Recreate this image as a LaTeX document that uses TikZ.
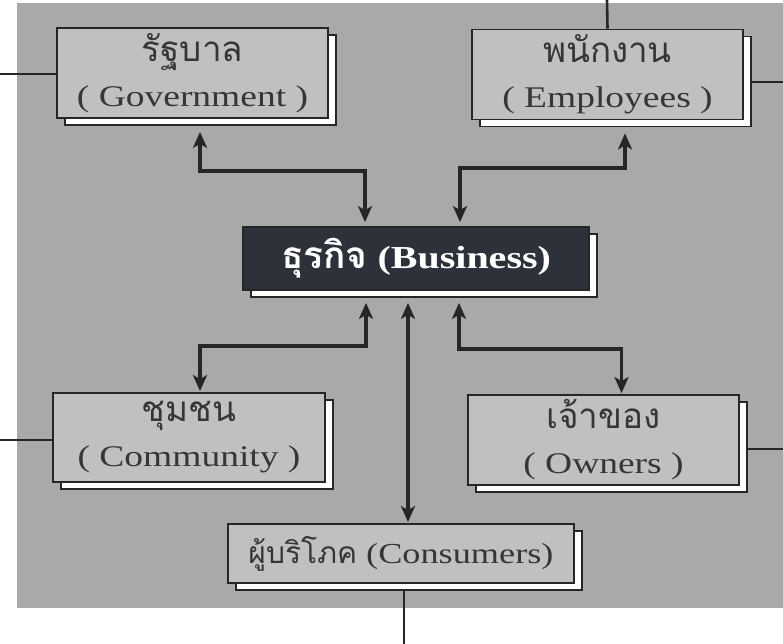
\documentclass[tikz,border=0pt]{standalone}
\usepackage{fontspec}
\setmainfont{Liberation Serif}[FakeStretch=1.25]
\newfontfamily\thai[Script=Thai]{Loma}
\usetikzlibrary{arrows.meta,shadows}
\definecolor{bgc}{HTML}{A9A9A9}
\definecolor{boxc}{HTML}{C0C0C0}
\definecolor{linec}{HTML}{262626}
\definecolor{txtc}{HTML}{363636}
\definecolor{busc}{HTML}{2D3139}
\tikzset{
  box/.style={draw=linec, line width=1.8pt, fill=boxc, minimum width=271pt,
    minimum height=90pt, inner sep=0pt, align=center, text=txtc,
    font=\fontsize{30}{45}\selectfont,
    copy shadow={shadow xshift=8pt, shadow yshift=-7pt, fill=white, draw=linec, line width=1.8pt}},
  tip/.tip={Stealth[length=16pt,width=14pt,inset=4pt]},
  link/.style={draw=linec, line width=3.2pt, tip-tip},
  ext/.style={draw=linec, line width=2.6pt}
}
\newcommand{\thtxt}[1]{{\thai\fontsize{35}{45}\selectfont #1}}
\begin{document}
\begin{tikzpicture}[x=1pt,y=-1pt]
\useasboundingbox (0,0) rectangle (783,644);
\fill[white] (0,0) rectangle (783,644);
\fill[bgc] (17,3) rectangle (783,608);

\node[box] (gov) at (192.5,73) {\thtxt{รัฐบาล}\\( Government )};
\node[box] (emp) at (607.5,74.5) {\thtxt{พนักงาน}\\( Employees )};
\node[box, fill=busc, text=white, minimum width=346pt, minimum height=63pt,
  font=\fontsize{32}{36}\selectfont\bfseries] (bus) at (416,258.5) {{\thai\bfseries\fontsize{37}{36}\selectfont ธุรกิจ} (Business)};
\node[box, minimum width=272pt, minimum height=89pt] (com) at (189,437.5) {\thtxt{ชุมชน}\\( Community )};
\node[box] (own) at (603.5,440) {\thtxt{เจ้าของ}\\( Owners )};
\node[box, minimum width=346pt, minimum height=59pt, font=\fontsize{29}{36}\selectfont] (con) at (401,553.5) {{\thai\fontsize{30}{36}\selectfont ผู้บริโภค} (Consumers)};

% connectors
\draw[link] ([xshift=-51pt,yshift=4pt]bus.north) -- ++(0,-51) -| ([xshift=7.5pt,yshift=-13pt]gov.south);
\draw[link] ([xshift=44pt,yshift=4pt]bus.north) -- ++(0,-54) -| ([xshift=17.5pt,yshift=-13pt]emp.south);
\draw[link] ([xshift=-50pt,yshift=-12pt]bus.south) -- ++(0,43) -| ([xshift=11pt,yshift=1pt]com.north);
\draw[link] ([xshift=43pt,yshift=-12pt]bus.south) -- ++(0,46) -| ([xshift=18pt,yshift=1pt]own.north);
\draw[link] ([xshift=-8pt,yshift=-12pt]bus.south) -- ([xshift=7pt,yshift=1pt]con.north);

% external lines
\coordinate (eL1) at (0,74);
\coordinate (eR1) at (783,82);
\coordinate (eT) at (607,0);
\coordinate (eL2) at (0,440);
\coordinate (eR2) at (783,449);
\coordinate (eB) at (404,644);
\draw[ext] (gov.west |- eL1) -- (eL1);
\draw[ext] ([xshift=8pt]emp.east |- eR1) -- (eR1);
\draw[ext] (emp.north) -- (eT);
\draw[ext] (com.west |- eL2) -- (eL2);
\draw[ext] ([xshift=8pt]own.east |- eR2) -- (eR2);
\draw[ext] ([yshift=-7pt]con.south -| eB) -- (eB);
\end{tikzpicture}
\end{document}
